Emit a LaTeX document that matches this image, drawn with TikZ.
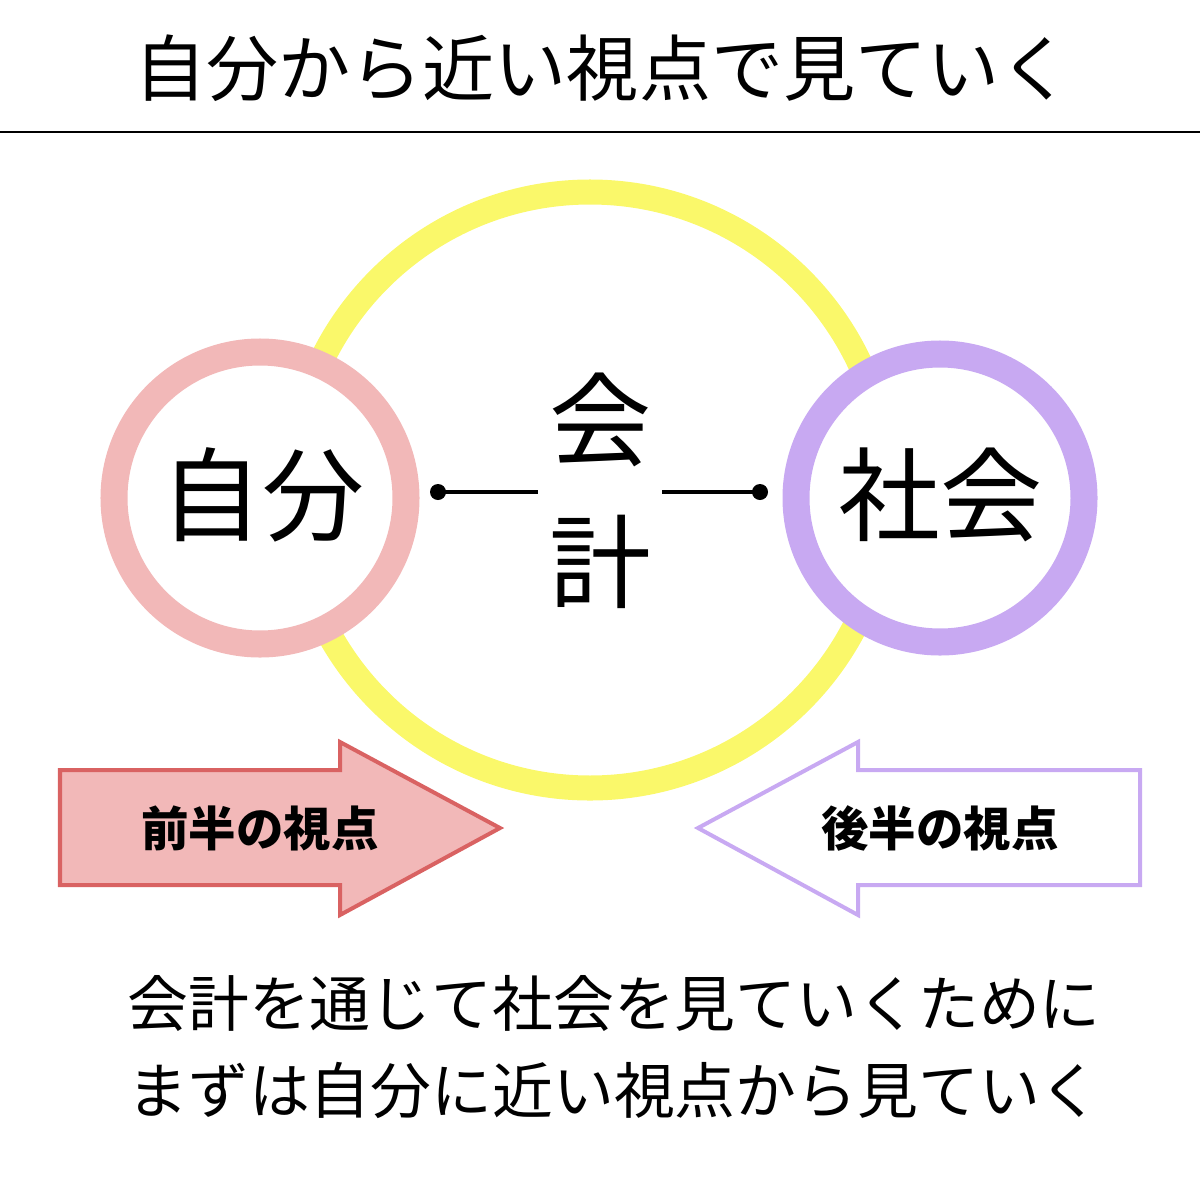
\documentclass[tikz,border=0pt]{standalone}
\usepackage{fontspec}
\setmainfont{Noto Sans CJK JP}
\definecolor{ringyellow}{HTML}{FAF86A}
\definecolor{ringpink}{HTML}{F2B8B8}
\definecolor{ringpurple}{HTML}{C8A9F2}
\definecolor{arrowred}{HTML}{D96262}
\tikzset{
  ring/.style={line width=0.27cm, draw=#1, fill=white},
  bigword/.style={font=\fontsize{29}{29}\selectfont},
  arrowword/.style={font=\bfseries\fontsize{13.5}{13.5}\selectfont},
  dotline/.style={line width=0.035cm},
}
\begin{document}
\begin{tikzpicture}[x=0.01cm,y=-0.01cm]
    \useasboundingbox (0,0) rectangle (1200,1200);
    % title and rule
    \node[font=\fontsize{20.5}{20.5}\selectfont] (title) at (603,68) {自分から近い視点で見ていく};
    \draw[line width=0.02cm] (0,132) -- (1200,132);

    % circles
    \draw[ringyellow, line width=0.25cm] (590,490) circle (298);
    \draw[ring=ringpink] (260,498) circle (146);
    \draw[ring=ringpurple] (940,498) circle (144);

    \node[bigword] (self) at (262,495) {自分};
    \node[bigword] (society) at (940,495) {社会};
    \node[bigword] (kai) at (600,420) {会};
    \node[bigword] (kei) at (600,562) {計};

    % connectors
    \coordinate (la) at (438,492);
    \coordinate (lb) at (538,492);
    \coordinate (ra) at (662,492);
    \coordinate (rb) at (760,492);
    \draw[dotline] (la) -- (lb);
    \draw[dotline] (ra) -- (rb);
    \fill (la) circle (8);
    \fill (rb) circle (8);

    % arrows
    \draw[arrowred, line width=0.04cm, fill=ringpink]
        (60,770) -- (340,770) -- (340,742) -- (500,828) -- (340,915) -- (340,885) -- (60,885) -- cycle;
    \node[arrowword] (first) at (260,828) {前半の視点};
    \draw[ringpurple, line width=0.04cm, fill=white]
        (1140,770) -- (858,770) -- (858,742) -- (698,828) -- (858,915) -- (858,885) -- (1140,885) -- cycle;
    \node[arrowword] (second) at (940,828) {後半の視点};

    % bottom text
    \node[anchor=west, font=\fontsize{17.3}{17.3}\selectfont] (line1) at (115,1003) {会計を通じて社会を見ていくために};
    \node[anchor=west, font=\fontsize{17.3}{17.3}\selectfont] (line2) at (115,1090) {まずは自分に近い視点から見ていく};
\end{tikzpicture}
\end{document}
